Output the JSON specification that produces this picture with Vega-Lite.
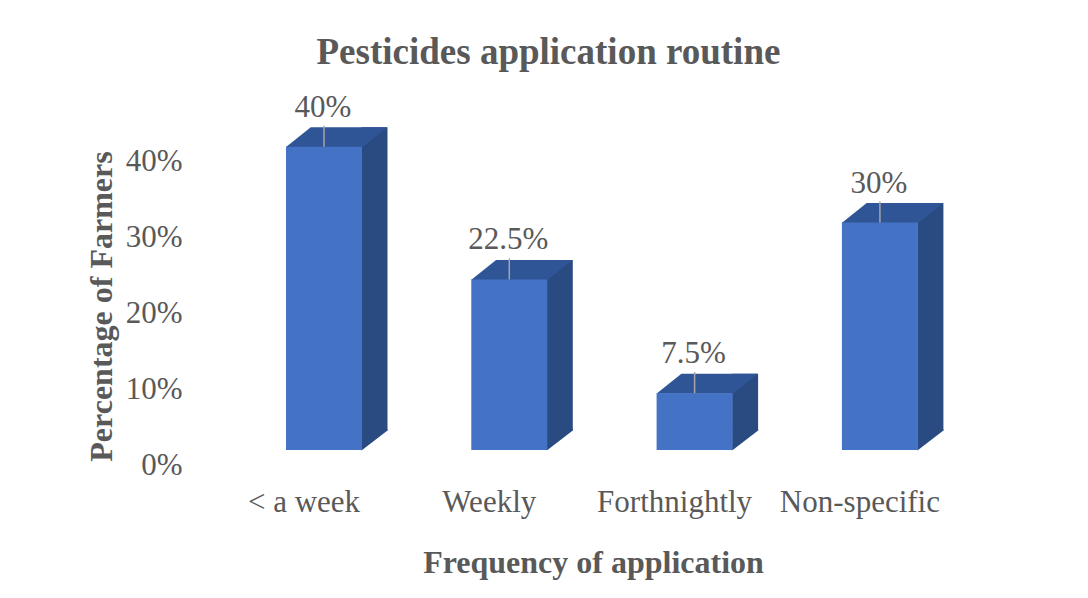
{
  "$schema": "https://vega.github.io/schema/vega-lite/v6.json",
  "autosize": {"type": "none"},
  "width": 817.2,
  "height": 379,
  "padding": {"left": 193.35, "top": 71, "right": 77.45, "bottom": 148},
  "background": "white",
  "config": {
    "view": {"stroke": null},
    "font": "Liberation Serif"
  },
  "title": {
    "text": "Pesticides application routine",
    "font": "Liberation Serif",
    "fontSize": 37,
    "fontWeight": "bold",
    "color": "#595959",
    "anchor": "middle",
    "frame": "group",
    "baseline": "alphabetic",
    "offset": -30,
    "dx": -53.5
  },
  "data": {
    "values": [
      {"freq": "< a week", "pct": 0.4},
      {"freq": "Weekly", "pct": 0.225},
      {"freq": "Forthnightly", "pct": 0.075},
      {"freq": "Non-specific", "pct": 0.3}
    ]
  },
  "encoding": {
    "x": {
      "field": "freq",
      "type": "nominal",
      "sort": null,
      "scale": {"paddingInner": 0.59, "paddingOuter": 0.5},
      "axis": {
        "title": "Frequency of application",
        "domain": false,
        "ticks": false,
        "tickSize": 0,
        "grid": false,
        "labelAngle": 0,
        "labelFont": "Liberation Serif",
        "labelFontSize": 31,
        "labelColor": "#595959",
        "labelBaseline": "alphabetic",
        "labelPadding": 61.7,
        "labelOffset": -20,
        "labelOverlap": false,
        "labelLimit": 400,
        "titleFont": "Liberation Serif",
        "titleFontSize": 32,
        "titleFontWeight": "bold",
        "titleColor": "#595959",
        "titleBaseline": "alphabetic",
        "titleAlign": "center",
        "titleX": 399.65,
        "titleY": 122
      }
    }
  },
  "layer": [
    {
      "mark": {"type": "bar", "color": "#2A4A82", "width": 26, "xOffset": 50.5, "yOffset": -19.5, "y2Offset": -19.5},
      "encoding": {
        "y": {
          "field": "pct",
          "type": "quantitative",
          "scale": {"domain": [0, 0.5], "nice": false},
          "axis": {
            "title": "Percentage of Farmers",
            "values": [0, 0.1, 0.2, 0.3, 0.4],
            "format": ".0%",
            "domain": false,
            "ticks": false,
            "tickSize": 0,
            "grid": false,
            "labelFont": "Liberation Serif",
            "labelFontSize": 31,
            "labelColor": "#595959",
            "labelBaseline": "middle",
            "labelPadding": 11.35,
            "labelOffset": 15,
            "titleFont": "Liberation Serif",
            "titleFontSize": 32,
            "titleFontWeight": "bold",
            "titleColor": "#595959",
            "titleBaseline": "alphabetic",
            "titleAlign": "center",
            "titleAngle": -90,
            "titleX": -82,
            "titleY": 235
          }
        },
        "y2": {"datum": 0}
      }
    },
    {
      "mark": {"type": "point", "filled": true, "opacity": 1, "color": "#2A4A82", "strokeWidth": 0, "size": 10000, "shape": "M0.75,0.01L0.75,-0.42L1.27,-0.42L1.27,-0.39Z"},
      "encoding": {
        "y": {"datum": 0, "type": "quantitative"}
      }
    },
    {
      "mark": {"type": "point", "filled": true, "opacity": 1, "color": "#2F5597", "strokeWidth": 0, "size": 10000, "shape": "M-0.765,0.01L0.765,0.01L1.265,-0.39L-0.265,-0.39Z"},
      "encoding": {
        "y": {"field": "pct", "type": "quantitative"}
      }
    },
    {
      "mark": {"type": "bar", "color": "#4472C4", "width": 76},
      "encoding": {
        "y": {"field": "pct", "type": "quantitative"},
        "y2": {"datum": 0}
      }
    },
    {
      "mark": {"type": "rule", "color": "#A6A6A6", "strokeWidth": 1.5, "y2Offset": -21},
      "encoding": {
        "y": {"field": "pct", "type": "quantitative"},
        "y2": {"field": "pct"}
      }
    },
    {
      "mark": {"type": "text", "font": "Liberation Serif", "fontSize": 31, "color": "#595959", "baseline": "alphabetic", "align": "center", "dy": -30, "dx": -1},
      "encoding": {
        "y": {"field": "pct", "type": "quantitative"},
        "text": {"field": "pct", "type": "quantitative", "format": ".1~%"}
      }
    }
  ]
}
